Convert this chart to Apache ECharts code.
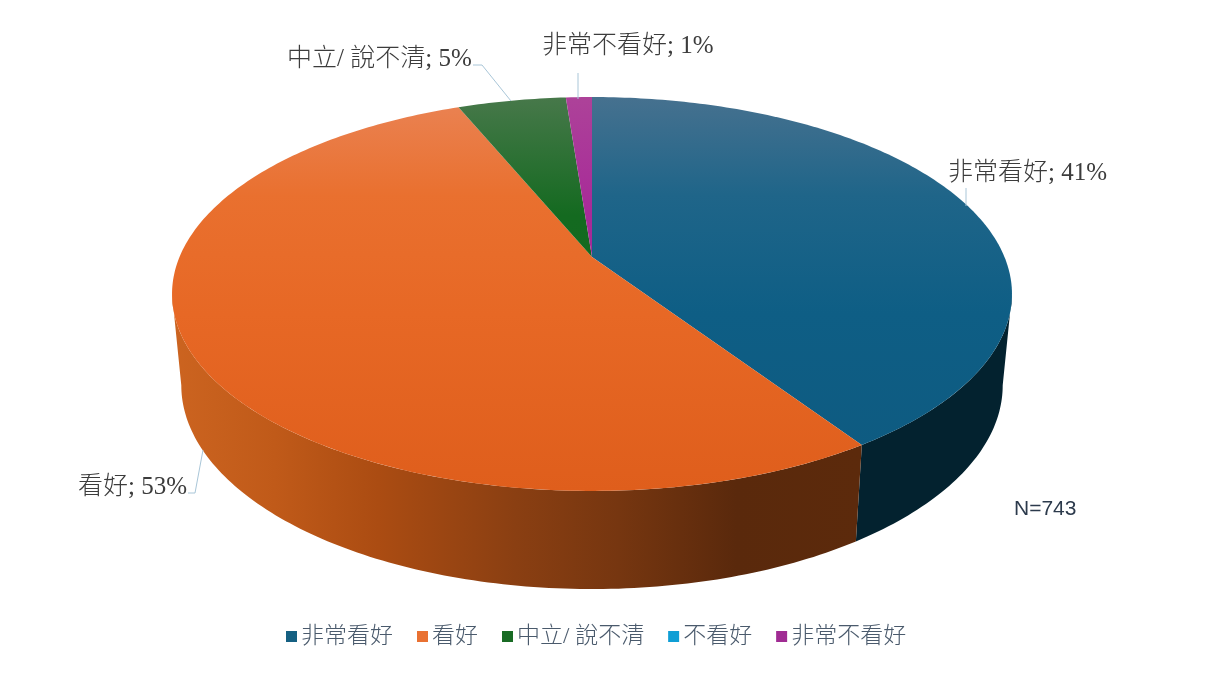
<!DOCTYPE html>
<html><head><meta charset="utf-8">
<style>html,body{margin:0;padding:0;background:#fff}#c{width:1223px;height:688px}</style>
<script src="https://cdn.jsdelivr.net/npm/echarts@6/dist/echarts.min.js"></script>
</head><body><div id="c"></div>
<script>
const categories = ['非常看好','看好','中立/ 說不清','不看好','非常不看好'];
const shares = [40.7,53.1,5.0,0,1.2];
const sampleNote = 'N=743';

const baseColors = ['#156082','#E97132','#196B24','#0F9ED5','#A02B93'];
const topGradients = [
  [[0,'#46718f'],[0.25,'#1f6589'],[0.55,'#0e5e85'],[1,'#0e5a80']],
  [[0,'#ea8354'],[0.25,'#e9702f'],[0.55,'#e76825'],[1,'#df5e1c']],
  [[0,'#47784a'],[0.3,'#146a20'],[1,'#0f691c']],
  [[0,'#ad4299'],[0.3,'#a72a98'],[1,'#a02b93']],
  [[0,'#ad4299'],[0.3,'#a72a98'],[1,'#a02b93']]
];
const wallGradients = [
  [[0,'#03283c'],[1,'#03222f']],
  [[0,'#cc6420'],[0.15,'#c05a19'],[0.3,'#ab4c12'],[0.5,'#8a3f12'],[0.65,'#763610'],[0.82,'#5a290c'],[1,'#5c2a0c']],
  [[0,'#0c4a14'],[1,'#0c4a14']],
  [[0,'#0a6a90'],[1,'#0a6a90']],
  [[0,'#6e1e66'],[1,'#6e1e66']]
];

const CX=592, TOP={cy:257,a:190,b:412.5}, K=0.1878;
const BOT={cy:347,a:196.6,b:403.4};
const WALL_FROM=0.28, WALL_TO=0.72;
const total=shares.reduce((s,v)=>s+v,0);

function project(frac,P){
  const t=frac*2*Math.PI,u=Math.sin(t),v=-Math.cos(t),d=1-K*v;
  return [CX+P.b*u/d,P.cy+P.a*v/d];
}
function arc(f0,f1,P){
  const n=Math.max(2,Math.ceil((f1-f0)*400)),pts=[];
  for(let i=0;i<=n;i++)pts.push(project(f0+(f1-f0)*i/n,P));
  return pts;
}
function makeRender(idx){
  return function(params,api){
    const val=api.value(0);
    if(!val)return {type:'group',children:[]};
    const before=shares.slice(0,idx).reduce((s,v)=>s+v,0);
    const f0=before/total,f1=(before+val)/total;
    const children=[{type:'polygon',z2:10,shape:{points:[[CX,TOP.cy]].concat(arc(f0,f1,TOP))},
      style:{fill:{type:'linear',x:0,y:97,x2:0,y2:491,global:true,
        colorStops:topGradients[idx].map(s=>({offset:s[0],color:s[1]}))}}}];
    const w0=Math.max(f0,WALL_FROM),w1=Math.min(f1,WALL_TO);
    if(w0<w1){
      const wall=arc(w0,w1,TOP).concat(arc(w0,w1,BOT).reverse());
      children.push({type:'polygon',z2:1,shape:{points:wall},style:{fill:{type:'linear',x:172,y:0,x2:860,y2:0,global:true,
        colorStops:wallGradients[idx].map(s=>({offset:s[0],color:s[1]}))}}});
    }
    return {type:'group',children};
  };
}
const labelFont='"Liberation Serif","Noto Sans CJK TC",serif';
const labelStyle={fontFamily:labelFont,fontSize:25,fontWeight:300,fill:'#3c3c3c'};
const pct=i=>categories[i]+'; '+Math.round(shares[i])+'%';
const lineStyle={stroke:'#a9c6d8',lineWidth:1,fill:null};
function label(i,x,y){return {type:'text',x,y,z:20,style:Object.assign({text:pct(i),textVerticalAlign:'middle',textAlign:'left'},labelStyle)};}
function leader(points){return {type:'polyline',z:20,shape:{points},style:lineStyle};}

const chart=echarts.init(document.getElementById('c'),null,{renderer:'canvas'});
chart.setOption({
  animation:false,
  backgroundColor:'#fff',
  legend:{
    data:categories,top:620,left:281,padding:5,icon:'rect',
    itemWidth:11,itemHeight:11,itemGap:24,itemStyle:{borderWidth:0},
    textStyle:{fontFamily:labelFont,fontSize:23,fontWeight:300,color:'#4a5a6c',padding:[0,0,0,-1]}
  },
  series:categories.map((name,i)=>({
    type:'custom',name,coordinateSystem:'none',
    itemStyle:{color:baseColors[i]},
    renderItem:makeRender(i),
    data:[[shares[i]]],silent:true
  })),
  graphic:[
    label(0,948,173),label(1,78,487),label(2,287,59),label(4,542,46),
    leader([[966,188],[966,206]]),
    leader([[188,493],[195,493],[203,450]]),
    leader([[473,65],[482,65],[511,101]]),
    leader([[578,73],[578,99]]),
    {type:'text',x:1014,y:509,z:20,style:{text:sampleNote,fontFamily:'"Liberation Sans",Arial,sans-serif',fontSize:21,fill:'#2c3a4c',textVerticalAlign:'middle'}}
  ]
});
</script></body></html>
